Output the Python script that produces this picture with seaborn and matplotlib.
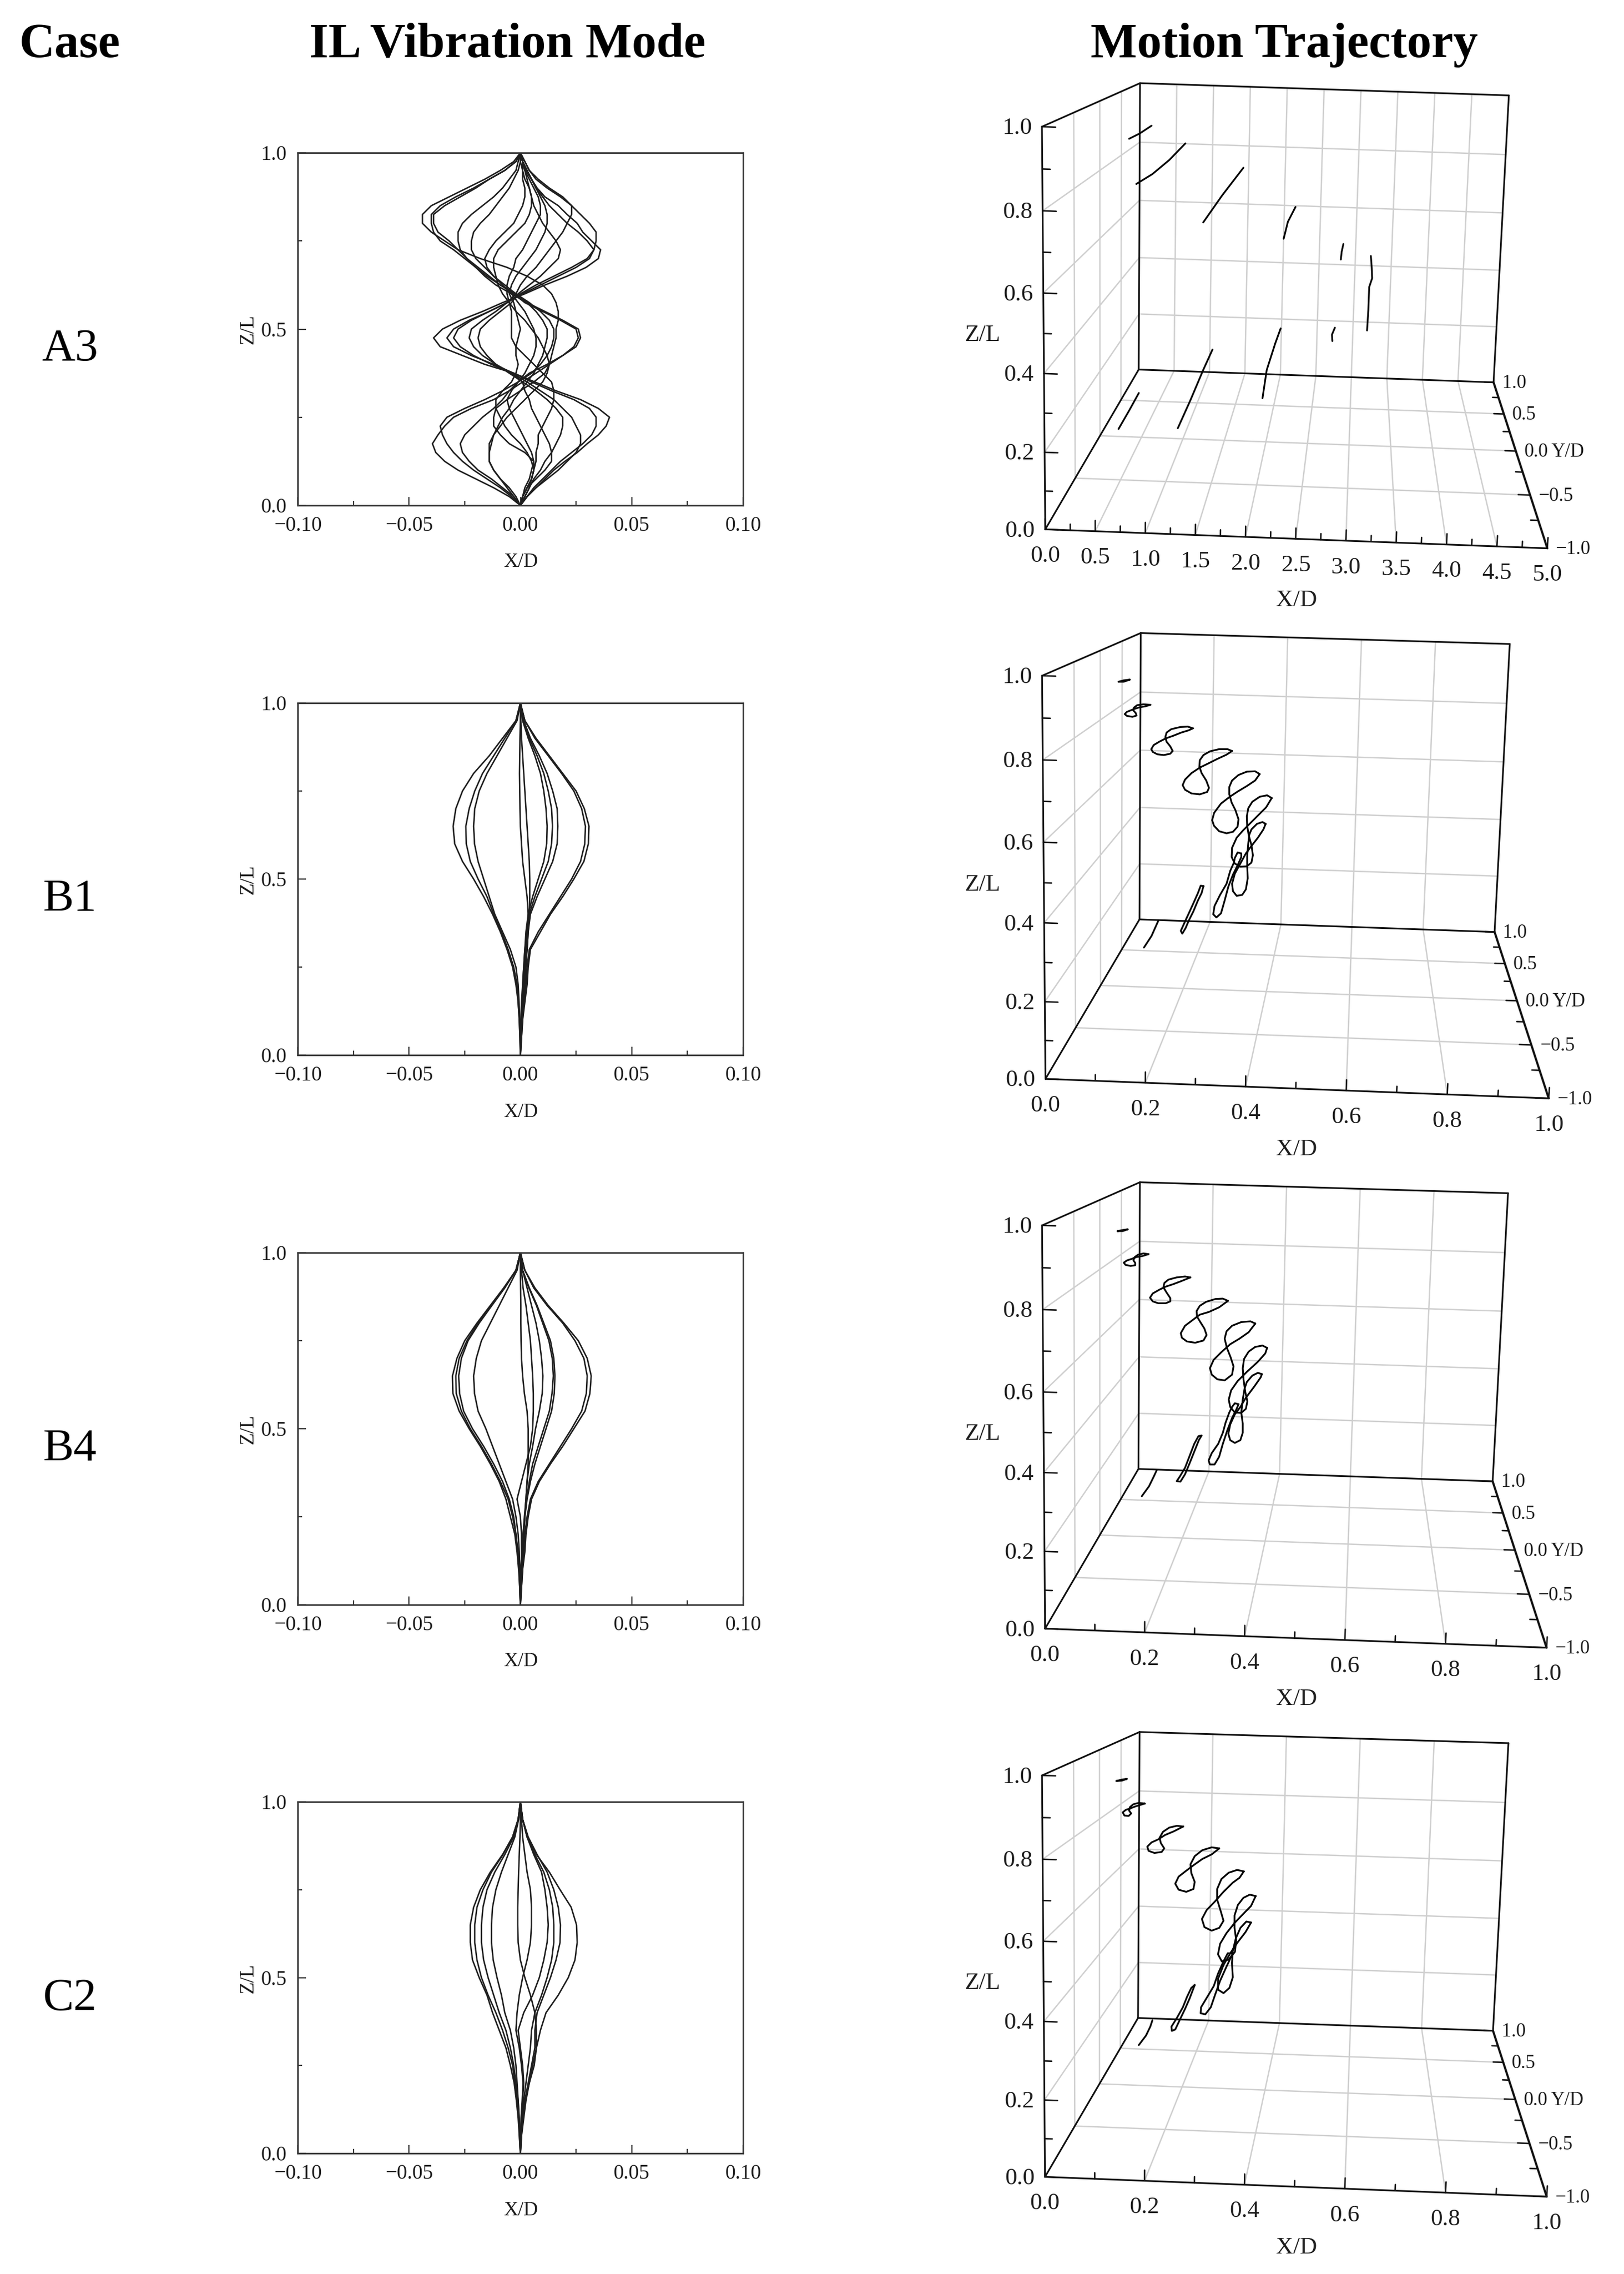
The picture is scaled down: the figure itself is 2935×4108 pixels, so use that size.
import numpy as np
import pandas as pd
import matplotlib
matplotlib.use("Agg")
import matplotlib.pyplot as plt
import seaborn as sns

W, H, DPI = 2935, 4108, 100

CASES = ["A3", "B1", "B4", "C2"]
CASE_Y = [631, 1625, 2618, 3611]
HEADERS = ["Case", "IL Vibration Mode", "Motion Trajectory"]
HEADER_X = [126, 917, 2321]

# Z/L stations of the mode shapes
Z_LEVELS = [0, .05, .10, .15, .20, .25, .30, .35, .40, .45, .50, .55, .60, .65, .70, .75, .80, .85, .90, .95, 1.0]
Z_LEVELS_FINE = [0, .025, .05, .075, .10, .125, .15, .175, .20, .225,
                 .25, .275, .30, .325, .35, .375, .40, .425, .45, .475,
                 .50, .525, .55, .575, .60, .625, .65, .675, .70, .725,
                 .75, .775, .80, .825, .85, .875, .90, .925, .95, .975, 1.0]

MODE_A3 = [
    [0, .003, .007, .011, .015, .020, .0255, .030, .035, .0385,
     .040, .035, .027, .016, .0065, -.003, -.016, -.026, -.036, -.039,
     -.035, -.027, -.017, -.008, .002, .011, .021, .0295, .035, .036,
     .032, .028, .0255, .021, .017, .011, .0075, .005, .0025, .001, 0],
    [0, .003, .006, .010, .014, .018, .023, .028, .032, .034,
     .034, .031, .024, .014, .005, -.003, -.012, -.022, -.030, -.033,
     -.030, -.023, -.014, -.006, .001, .009, .017, .025, .031, .033,
     .034, .034, .031, .027, .023, .018, .012, .007, .004, .002, 0],
    [0, .003, .007, .012, .017, .021, .025, .027, .027, .025,
     .023, .019, .015, .009, .003, -.004, -.013, -.021, -.027, -.030,
     -.028, -.022, -.014, -.006, .000, .007, .015, .023, .030, .033,
     .030, .026, .021, .017, .013, .010, .007, .005, .003, .001, 0],
    [0, .002, .004, .006, .009, .011, .014, .016, .018, .019,
     .019, .016, .012, .007, .001, -.005, -.011, -.017, -.021, -.023,
     -.022, -.017, -.011, -.006, -.002, .000, .003, .007, .010, .013,
     .016, .019, .021, .023, .023, .019, .013, .008, .004, .002, 0],
    [0, .001, .003, .007, .011, .014, .014, .013, .011, .009,
     .007, .005, .004, .002, .001, -.004, -.011, -.015, -.018, -.019,
     -.018, -.014, -.009, -.004, -.001, .004, .009, .013, .017, .018,
     .016, .013, .010, .008, .006, .005, .004, .002, .001, .001, 0],
    [0, .002, .004, .005, .006, .006, .002, -.005, -.009, -.012,
     -.012, -.011, -.006, .000, .006, .011, .013, .014, .015, .016,
     .016, .017, .017, .016, .014, .010, .003, -.006, -.018, -.028,
     -.034, -.040, -.044, -.044, -.040, -.032, -.024, -.016, -.009, -.003, 0],
    [0, -.003, -.008, -.013, -.019, -.023, -.026, -.027, -.025, -.021,
     -.017, -.012, -.008, -.005, -.001, .004, .012, .019, .025, .027,
     .026, .019, .011, .003, -.004, -.011, -.016, -.020, -.025, -.030,
     -.036, -.039, -.040, -.040, -.036, -.029, -.021, -.014, -.007, -.002, 0],
    [0, -.005, -.012, -.020, -.028, -.034, -.038, -.0395, -.037, -.034,
     -.030, -.022, -.012, -.005, .001, .007, .013, .019, .024, .026,
     .025, .018, .010, .002, -.003, -.009, -.014, -.019, -.024, -.028,
     -.032, -.037, -.039, -.039, -.034, -.027, -.020, -.014, -.007, -.002, 0],
    [0, -.004, -.009, -.015, -.021, -.026, -.030, -.033, -.035, -.036,
     -.033, -.025, -.016, -.008, -.001, .005, .009, .012, .014, .015,
     .015, .013, .009, .004, -.002, -.009, -.015, -.020, -.024, -.027,
     -.028, -.028, -.026, -.022, -.017, -.012, -.008, -.005, -.002, -.001, 0],
    [0, -.003, -.006, -.009, -.012, -.014, -.014, -.014, -.012, -.010,
     -.008, -.005, -.003, 0, .003, .006, .008, .010, .011, .012,
     .012, .010, .007, .003, -.002, -.007, -.012, -.016, -.020, -.022,
     -.022, -.021, -.018, -.014, -.011, -.008, -.005, -.003, -.001, 0, 0],
    [0, .001, .003, .005, .006, .005, .003, .000, -.004, -.007,
     -.009, -.011, -.011, -.008, -.004, -.002, -.001, -.002, -.002, -.001,
     0, -.001, -.002, -.003, -.005, -.004, -.002, .001, .004, .007,
     .009, .011, .012, .012, .011, .009, .007, .005, .003, .001, 0],
    [0, -.002, -.005, -.009, -.012, -.014, -.014, -.013, -.012, -.009,
     -.006, -.002, .002, .006, .010, .012, .013, .012, .010, .008,
     .005, .002, -.002, -.005, -.008, -.010, -.011, -.012, -.012, -.010,
     -.006, -.002, .002, .004, .005, .005, .004, .003, .002, .001, 0],
    [0, .001, .003, .005, .006, .007, .007, .008, .008, .010,
     .012, .014, .015, .015, .014, .010, .006, .002, -.002, -.004,
     -.004, -.004, -.004, -.005, -.006, -.006, -.005, -.003, -.002, .001,
     .003, .005, .007, .009, .009, .008, .006, .004, .002, .001, 0],
    [0, .001, .002, .004, .005, .006, .005, .003, .001, -.001,
     -.003, -.005, -.006, -.004, -.001, .002, .004, .006, .007, .007,
     .006, .004, .002, -.001, -.004, -.008, -.012, -.015, -.016, -.014,
     -.011, -.007, -.003, -.001, .001, .002, .002, .001, .001, 0, 0],
]
MODE_B1 = [
    [0, .0005, .001, .002, .003, .0035, .0045, .009, .0135, .019, .024, .0285, .0305, .0308, .0287, .025, .019, .013, .007, .002, 0],
    [0, .0005, .001, .0015, .0025, .003, .004, .008, .013, .018, .023, .027, .0289, .0292, .0275, .024, .0185, .0125, .0065, .002, 0],
    [0, .0003, .0008, .0012, .002, .0025, .003, .0035, .0045, .0075, .011, .0145, .0165, .0168, .0165, .0145, .012, .0085, .0045, .0015, 0],
    [0, .0003, .0006, .001, .0015, .002, .0025, .003, .004, .0065, .0095, .0125, .014, .0144, .014, .0125, .0105, .0075, .004, .001, 0],
    [0, .0002, .0005, .0008, .001, .0015, .002, .0025, .0035, .0055, .008, .0105, .0118, .012, .0115, .0105, .009, .0065, .0035, .001, 0],
    [0, 0, .0005, .001, .0015, .002, .003, .0035, .004, .0042, .0042, .004, .0035, .003, .0025, .002, .0015, .001, .0005, .0002, 0],
    [0, 0, .0002, .0005, .001, .0015, .002, .003, .0035, .003, .002, .001, .0005, 0, -.0002, -.0003, -.0004, -.0003, -.0002, 0, 0],
    [0, -.0002, -.0005, -.001, -.002, -.0035, -.006, -.009, -.0125, -.0165, -.021, -.026, -.0295, -.0302, -.029, -.026, -.021, -.014, -.008, -.002, 0],
    [0, -.0002, -.0005, -.001, -.0015, -.003, -.0055, -.0085, -.012, -.015, -.019, -.0225, -.0243, -.0245, -.023, -.0205, -.017, -.012, -.007, -.002, 0],
    [0, -.0001, -.0003, -.0006, -.001, -.002, -.0045, -.008, -.0115, -.014, -.0165, -.019, -.0206, -.021, -.0205, -.0185, -.015, -.0105, -.006, -.0015, 0],
]
MODE_B4 = [
    [0, .0005, .001, .002, .0025, .0035, .005, .0085, .0135, .019, .024, .029, .0312, .0318, .03, .026, .0195, .0125, .0065, .002, 0],
    [0, .0005, .001, .0015, .002, .003, .0045, .008, .013, .018, .023, .0275, .0296, .03, .0285, .0245, .019, .012, .006, .002, 0],
    [0, .0003, .0008, .0012, .0015, .002, .003, .0045, .0065, .009, .0115, .014, .0152, .0155, .015, .0135, .0105, .0075, .004, .001, 0],
    [0, .0002, .0006, .001, .0012, .002, .0028, .004, .0055, .008, .0105, .013, .0142, .0148, .0143, .0128, .01, .0072, .0038, .001, 0],
    [0, .0002, .0005, .001, .0015, .002, .0025, .003, .004, .0055, .0068, .0085, .0098, .0101, .0095, .0085, .007, .005, .003, .001, 0],
    [0, .0002, .0005, .0005, .0005, 0, -.0015, .0005, .0025, .0045, .0055, .0058, .0058, .0055, .005, .0045, .0035, .0025, .0012, .0005, 0],
    [0, -.0002, 0, .0008, .0012, .0018, .0025, .003, .0035, .0035, .0035, .003, .0018, .001, .0005, .0003, .0002, .0002, .0001, 0, 0],
    [0, -.0003, -.0008, -.0015, -.0025, -.0045, -.0065, -.0095, -.0135, -.018, -.023, -.0275, -.0303, -.0305, -.0285, -.025, -.0195, -.0135, -.0075, -.002, 0],
    [0, -.0003, -.0006, -.0012, -.002, -.0035, -.0055, -.009, -.013, -.0175, -.0225, -.0265, -.0288, -.029, -.0275, -.024, -.019, -.013, -.0072, -.002, 0],
    [0, -.0002, -.0005, -.001, -.002, -.003, -.005, -.008, -.012, -.0165, -.0215, -.0255, -.0273, -.0277, -.0265, -.0235, -.0185, -.0128, -.007, -.002, 0],
    [0, -.0001, -.0003, -.0005, -.001, -.002, -.0035, -.0065, -.0095, -.0125, -.0155, -.019, -.0206, -.021, -.0198, -.0175, -.0135, -.0095, -.0055, -.0015, 0],
]
MODE_C2 = [
    [0, .0005, .0015, .0025, .004, .0055, .0072, .009, .0115, .017, .0215, .0245, .0255, .0252, .0228, .0178, .013, .0072, .0033, .001, 0],
    [0, .0005, .001, .002, .0035, .005, .0065, .0065, .0075, .0105, .0135, .016, .0178, .018, .017, .015, .012, .0075, .0035, .001, 0],
    [0, .0003, .0008, .0015, .0025, .0035, .0045, .005, .0065, .0095, .012, .014, .015, .015, .0145, .013, .0105, .0065, .003, .001, 0],
    [0, .0002, .0005, .001, .0015, .001, 0, -.001, .0015, .0055, .0085, .0105, .012, .0125, .012, .011, .0095, .006, .003, .001, 0],
    [0, .0001, .0003, .0008, .0012, .0005, -.0005, -.002, -.0015, -.0005, .001, .003, .0045, .005, .005, .0045, .003, .002, .001, .0005, 0],
    [0, .0003, .0008, .002, .004, .0062, .0072, .0072, .0065, .0045, .002, 0, -.001, -.0012, -.0012, -.001, -.0008, -.0005, -.0002, 0, 0],
    [0, -.0005, -.001, -.0018, -.0028, -.0045, -.0065, -.0095, -.0125, -.015, -.0185, -.0215, -.0225, -.0225, -.021, -.018, -.0135, -.008, -.0035, -.001, 0],
    [0, -.0004, -.0008, -.0015, -.0025, -.0035, -.0055, -.008, -.011, -.0145, -.0175, -.0195, -.0205, -.0205, -.0195, -.0168, -.013, -.0078, -.0035, -.001, 0],
    [0, -.0003, -.0006, -.001, -.002, -.003, -.0045, -.0065, -.0095, -.012, -.0145, -.0165, -.0175, -.0175, -.0168, -.015, -.0115, -.007, -.003, -.001, 0],
    [0, -.0002, -.0005, -.001, -.0015, -.002, -.003, -.0045, -.007, -.0085, -.0105, -.0122, -.013, -.013, -.0125, -.011, -.0085, -.0055, -.0025, -.0008, 0],
]
MODES = [MODE_A3, MODE_B1, MODE_B4, MODE_C2]
MODE_Z = [Z_LEVELS_FINE, Z_LEVELS, Z_LEVELS, Z_LEVELS]
MODE_TOP = [276, 1270, 2263, 3255]
MODE_BOTTOM = [913, 1906, 2899, 3890]

MODE_XTICKS = [-.10, -.05, 0, .05, .10]
MODE_XLABELS = ["\u22120.10", "\u22120.05", "0.00", "0.05", "0.10"]
MODE_XMINOR = [-.075, -.025, .025, .075]
MODE_YTICKS = [0, .5, 1]
MODE_YLABELS = ["0.0", "0.5", "1.0"]
MODE_YMINOR = [.25, .75]

# Trajectories as read on the page. *_VIEW lists are in the 1568-unit panel view,
# the others are in 3x crop pixels, with their crop's top-left page corner
TRAJ_A3_VIEW = [
    [(445, 205), (470, 190), (498, 168)],
    [(462, 333), (500, 305), (540, 265), (578, 218)],
    [(620, 442), (665, 365), (715, 287)],
    [(810, 488), (820, 440), (838, 398)],
    [(945, 547), (947, 525), (951, 503)],
    [(1007, 748), (1010, 690), (1012, 625), (1019, 600), (1018, 570), (1016, 537)],
    [(925, 778), (924, 760), (931, 740)],
    [(760, 940), (770, 860), (790, 785), (803, 742)],
    [(560, 1025), (590, 945), (620, 860), (642, 802)],
    [(420, 1027), (445, 975), (468, 925)],
]
TRAJ_B1_VIEW = [
    [(420, 175), (432, 171), (447, 169), (432, 175), (420, 175)],
    [(514, 852), (508, 868), (498, 895), (480, 928)],
]
TRAJ_B1_UPPER_ORIGIN = (2010, 1260)
TRAJ_B1_UPPER = [
    [(207, 40), (170, 37), (135, 42), (118, 55), (115, 70), (128, 85), (132, 98), (110, 105), (80, 100), (68, 90), (80, 78), (100, 70), (120, 62), (150, 53), (180, 48), (207, 40)],
    [(438, 167), (410, 158), (370, 160), (320, 172), (295, 190), (288, 215), (295, 240), (315, 265), (328, 290), (315, 305), (280, 312), (245, 308), (220, 295), (212, 280), (225, 258), (255, 240), (290, 222), (330, 208), (375, 190), (415, 178), (438, 167)],
    [(650, 290), (625, 280), (580, 280), (530, 292), (495, 312), (475, 340), (473, 375), (485, 410), (510, 450), (525, 490), (515, 512), (475, 525), (430, 520), (395, 500), (382, 475), (395, 445), (430, 410), (475, 380), (520, 358), (570, 333), (620, 310), (650, 290)],
    [(800, 415), (775, 400), (730, 402), (685, 420), (650, 450), (635, 485), (635, 525), (648, 570), (668, 610), (685, 660), (680, 700), (655, 728), (620, 736), (580, 725), (552, 695), (542, 665), (553, 625), (590, 575), (635, 540), (680, 510), (730, 480), (775, 450), (800, 415)],
]
TRAJ_B1_LOWER_ORIGIN = (2130, 1420)
TRAJ_B1_LOWER = [
    [(505, 65), (480, 50), (440, 58), (400, 85), (378, 120), (370, 165), (372, 215), (380, 265), (395, 320), (403, 375), (395, 415), (370, 435), (335, 437), (305, 420), (288, 385), (290, 335), (315, 280), (350, 240), (385, 205), (430, 160), (475, 115), (505, 65)],
    [(472, 205), (455, 195), (425, 205), (395, 235), (383, 265), (378, 310), (372, 380), (372, 430), (375, 500), (365, 560), (345, 590), (315, 595), (295, 570), (290, 530), (305, 475), (335, 420), (365, 365), (395, 325), (430, 280), (460, 235), (472, 205)],
    [(340, 365), (320, 360), (305, 390), (300, 415), (280, 460), (260, 530), (225, 590), (195, 650), (188, 695), (205, 712), (230, 690), (250, 620), (270, 545), (295, 480), (320, 430), (340, 385), (340, 365)],
    [(135, 542), (120, 540), (105, 580), (85, 625), (60, 680), (30, 745), (12, 785), (20, 800), (38, 770), (55, 730), (80, 680), (105, 620), (125, 580), (135, 542)],
]
TRAJ_B4_VIEW = [
    [(418, 174), (430, 171), (442, 169), (430, 174), (418, 174)],
    [(510, 852), (503, 870), (492, 897), (475, 925)],
]
TRAJ_B4_ORIGIN = (2010, 2255)
TRAJ_B4_CROP = [
    [(197, 32), (170, 28), (140, 35), (122, 48), (115, 65), (125, 80), (125, 92), (100, 96), (72, 90), (63, 78), (80, 66), (105, 58), (130, 48), (165, 42), (197, 32)],
    [(424, 158), (395, 153), (350, 158), (305, 170), (283, 188), (278, 212), (295, 240), (315, 270), (315, 288), (290, 298), (250, 298), (220, 288), (205, 268), (220, 245), (255, 225), (290, 208), (330, 195), (375, 178), (424, 158)],
    [(628, 285), (600, 273), (560, 275), (510, 290), (475, 312), (458, 340), (460, 370), (478, 400), (500, 435), (512, 470), (495, 500), (450, 512), (405, 505), (378, 485), (372, 460), (395, 420), (435, 390), (475, 360), (525, 345), (580, 320), (628, 285)],
    [(776, 408), (750, 396), (700, 400), (650, 420), (620, 450), (610, 490), (622, 540), (642, 590), (658, 640), (650, 685), (610, 716), (570, 710), (540, 685), (530, 650), (550, 605), (590, 565), (640, 520), (690, 490), (740, 455), (776, 408)],
    [(840, 540), (815, 527), (775, 535), (740, 560), (715, 600), (708, 650), (712, 710), (722, 780), (733, 830), (725, 870), (700, 892), (665, 890), (640, 860), (632, 820), (645, 770), (680, 720), (730, 670), (790, 615), (830, 570), (840, 540)],
    [(812, 682), (790, 675), (760, 690), (730, 725), (718, 760), (708, 820), (700, 890), (708, 950), (708, 1000), (695, 1040), (665, 1055), (640, 1040), (630, 1005), (640, 955), (665, 900), (695, 860), (725, 810), (770, 750), (805, 700), (812, 682)],
    [(685, 845), (665, 840), (650, 860), (635, 890), (615, 945), (600, 1000), (575, 1060), (540, 1110), (523, 1150), (530, 1172), (555, 1172), (580, 1130), (600, 1060), (625, 985), (650, 920), (675, 870), (685, 845)],
    [(485, 1015), (468, 1018), (445, 1060), (420, 1125), (395, 1190), (365, 1240), (350, 1262), (370, 1265), (395, 1225), (420, 1165), (450, 1090), (470, 1040), (485, 1015)],
]
TRAJ_C2_VIEW = [
    [(415, 184), (428, 180), (440, 178), (428, 183), (415, 184)],
    [(482, 248), (468, 246), (455, 250), (447, 258), (445, 268), (450, 276), (444, 283), (434, 282), (430, 273), (437, 266), (447, 262), (460, 256), (482, 248)],
    [(573, 313), (558, 311), (540, 316), (525, 328), (517, 345), (520, 360), (528, 375), (522, 385), (505, 388), (491, 382), (488, 370), (498, 358), (513, 350), (530, 337), (550, 327), (573, 313)],
    [(658, 375), (640, 372), (618, 380), (600, 397), (590, 420), (592, 445), (600, 470), (597, 490), (580, 498), (562, 492), (554, 475), (562, 455), (578, 440), (598, 422), (618, 405), (640, 392), (658, 375)],
    [(716, 440), (700, 436), (680, 444), (663, 462), (653, 490), (653, 520), (662, 555), (668, 580), (658, 600), (640, 608), (623, 598), (617, 575), (628, 550), (648, 525), (668, 498), (690, 472), (706, 458), (716, 440)],
    [(744, 510), (730, 506), (715, 515), (702, 535), (694, 565), (694, 600), (698, 635), (695, 668), (680, 690), (664, 695), (655, 675), (660, 645), (675, 615), (695, 585), (715, 560), (733, 538), (744, 510)],
    [(733, 585), (722, 582), (708, 600), (697, 630), (690, 665), (688, 700), (690, 740), (682, 770), (668, 785), (655, 775), (655, 745), (668, 705), (685, 670), (702, 640), (720, 612), (733, 585)],
    [(690, 672), (678, 672), (668, 695), (655, 730), (645, 765), (630, 795), (615, 825), (614, 842), (625, 845), (638, 825), (648, 790), (660, 750), (675, 710), (690, 672)],
    [(600, 762), (592, 770), (582, 795), (572, 825), (558, 855), (545, 880), (546, 892), (554, 888), (565, 860), (577, 830), (588, 800), (600, 762)],
    [(500, 862), (495, 880), (485, 905), (468, 932)],
]
PANEL_TOP = [120, 1120, 2113, 3100]
TRAJ_VIEW = [TRAJ_A3_VIEW, TRAJ_B1_VIEW, TRAJ_B4_VIEW, TRAJ_C2_VIEW]
TRAJ_CROPS = [
    [],
    [(TRAJ_B1_UPPER_ORIGIN, TRAJ_B1_UPPER), (TRAJ_B1_LOWER_ORIGIN, TRAJ_B1_LOWER)],
    [(TRAJ_B4_ORIGIN, TRAJ_B4_CROP)],
    [],
]

# X/D axis of the 3d boxes
X_RANGE = [5.0, 1.0, 1.0, 1.0]
X_MAJOR = [[0, .5, 1, 1.5, 2, 2.5, 3, 3.5, 4, 4.5, 5], [0, .2, .4, .6, .8, 1], [0, .2, .4, .6, .8, 1], [0, .2, .4, .6, .8, 1]]
X_MINOR = [[.25, .75, 1.25, 1.75, 2.25, 2.75, 3.25, 3.75, 4.25, 4.75], [.1, .3, .5, .7, .9], [.1, .3, .5, .7, .9], [.1, .3, .5, .7, .9]]
Z_MAJOR = [0, .2, .4, .6, .8, 1]
Z_MINOR = [.1, .3, .5, .7, .9]
Y_MAJOR = [-1, -.5, 0, .5, 1]
Y_MINOR = [-.75, -.25, .25, .75]

# box corners on the page in view units: FL bottom, FL top, BL bottom, BL top, BR top, BR bottom, FR bottom
BOX_CORNERS = [
    [(247, 1312), (240, 170), (468, 858), (470, 48), (1342, 82), (1306, 895), (1432, 1365)],
    [(247, 1300), (240, 158), (470, 848), (472, 37), (1344, 68), (1308, 884), (1436, 1355)],
    [(247, 1300), (240, 157), (467, 848), (470, 36), (1340, 67), (1304, 882), (1430, 1355)],
    [(247, 1306), (240, 167), (466, 855), (469, 46), (1341, 77), (1305, 891), (1430, 1362)],
]
BOX_CORNER_UVW = [(0, 0, 0), (0, 0, 1), (0, 1, 0), (0, 1, 1), (1, 1, 1), (1, 1, 0), (1, 0, 0)]

GRID = "#cfcfcf"
INK = "#1e1e1e"
TEXT = "#1c1c1c"


def fit_projection(corners):
    rows = []
    for (u, v, w), (px, py) in zip(BOX_CORNER_UVW, corners):
        rows.append([u, v, w, 1, 0, 0, 0, 0, -px * u, -px * v, -px * w, -px])
        rows.append([0, 0, 0, 0, u, v, w, 1, -py * u, -py * v, -py * w, -py])
    _, _, vt = np.linalg.svd(np.array(rows, dtype=float))
    return vt[-1].reshape(3, 4)


def draw_mode(fig, i):
    top, bottom = MODE_TOP[i], MODE_BOTTOM[i]
    ax = fig.add_axes([538 / W, 1 - bottom / H, (1343 - 538) / W, (bottom - top) / H])
    rows = [{"x": x, "z": z, "curve": c} for c, curve in enumerate(MODES[i]) for x, z in zip(curve, MODE_Z[i])]
    df = pd.DataFrame(rows)
    sns.lineplot(data=df, x="x", y="z", units="curve", estimator=None, sort=False,
                 color=INK, lw=1.9, legend=False, ax=ax)
    ax.set_xlim(-.10, .10)
    ax.set_ylim(0, 1)
    ax.set_xticks(MODE_XTICKS, MODE_XLABELS)
    ax.set_yticks(MODE_YTICKS, MODE_YLABELS)
    ax.set_xticks(MODE_XMINOR, minor=True)
    ax.set_yticks(MODE_YMINOR, minor=True)
    ax.tick_params(axis="both", which="major", direction="in", length=11, width=1.6, color="#333333",
                   labelsize=27, labelcolor=TEXT, pad=14, left=True, bottom=True)
    ax.tick_params(axis="both", which="minor", direction="in", length=6, width=1.6, color="#333333",
                   left=True, bottom=True)
    for spine in ax.spines.values():
        spine.set_visible(True)
        spine.set_color("#333333")
        spine.set_linewidth(2.0)
    ax.set_xlabel("")
    ax.set_ylabel("")
    fig.text(941 / W, 1 - (bottom + 103) / H, "X/D", fontsize=26, color=TEXT, ha="center", va="center")
    fig.text(449 / W, 1 - (top + 319) / H, "Z/L", fontsize=26, color=TEXT, ha="center", va="center", rotation=90)


def draw_box(fig, i):
    y0 = PANEL_TOP[i]
    ax = fig.add_axes([1700 / W, 1 - (y0 + 1000) / H, 1200 / W, 1000 / H])
    ax.set_xlim(0, 1568)
    ax.set_ylim(1568, 0)
    ax.axis("off")

    m = fit_projection(BOX_CORNERS[i])
    xmax = X_RANGE[i]

    def pr(x, y, z):
        p = m @ np.array([x / xmax, (y + 1) / 2, z, 1.0])
        return p[0] / p[2], p[1] / p[2]

    def seg(a, b, **kw):
        pa, pb = pr(*a), pr(*b)
        ax.plot([pa[0], pb[0]], [pa[1], pb[1]], solid_capstyle="round", **kw)

    grid = dict(color=GRID, lw=1.8, zorder=1)
    for x in X_MAJOR[i][1:-1]:
        seg((x, 1, 0), (x, 1, 1), **grid)
        seg((x, -1, 0), (x, 1, 0), **grid)
    for z in Z_MAJOR[1:-1]:
        seg((0, 1, z), (xmax, 1, z), **grid)
        seg((0, -1, z), (0, 1, z), **grid)
    for y in Y_MAJOR[1:-1]:
        seg((0, y, 0), (0, y, 1), **grid)
        seg((0, y, 0), (xmax, y, 0), **grid)

    frame = dict(color="#101010", lw=2.2, zorder=3)
    seg((0, -1, 0), (0, -1, 1), **frame)
    seg((0, -1, 1), (0, 1, 1), **frame)
    seg((0, 1, 1), (xmax, 1, 1), **frame)
    seg((0, 1, 0), (0, 1, 1), **frame)
    seg((xmax, 1, 0), (xmax, 1, 1), **frame)
    seg((0, -1, 0), (xmax, -1, 0), **frame)
    seg((0, -1, 0), (0, 1, 0), **frame)
    seg((0, 1, 0), (xmax, 1, 0), **frame)
    seg((xmax, -1, 0), (xmax, 1, 0), color="#101010", lw=2.8, zorder=3)

    tick = dict(color="#101010", lw=1.9, zorder=3)
    for x in X_MAJOR[i]:
        seg((x, -1, 0), (x, -1, .028), **tick)
        px, py = pr(x, -1, 0)
        ax.text(px, py + 76, f"{x:.1f}", fontsize=31, color=TEXT, ha="center", va="center")
    for x in X_MINOR[i]:
        seg((x, -1, 0), (x, -1, .016), **tick)
    for z in Z_MAJOR:
        seg((0, -1, z), (.026 * xmax, -1, z), **tick)
        px, py = pr(0, -1, z)
        ax.text(px - 24, py + 5, f"{z:.1f}", fontsize=31, color=TEXT, ha="right", va="center")
    for z in Z_MINOR:
        seg((0, -1, z), (.015 * xmax, -1, z), **tick)
    for y in Y_MAJOR:
        seg((xmax * .974, y, 0), (xmax, y, 0), **tick)
        px, py = pr(xmax, y, 0)
        label = f"{y:.1f}".replace("-", "\u2212")
        ax.text(px + 20, py + 3, label, fontsize=25, color=TEXT, ha="left", va="center")
        if y == 0:
            ax.text(px + 84, py + 3, "Y/D", fontsize=25, color=TEXT, ha="left", va="center")
    for y in Y_MINOR:
        seg((xmax * .984, y, 0), (xmax, y, 0), **tick)

    fl_bottom, fl_top = BOX_CORNERS[i][0], BOX_CORNERS[i][1]
    ax.text(840, fl_bottom[1] + 200, "X/D", fontsize=31, color=TEXT, ha="center", va="center")
    ax.text(100, (fl_bottom[1] + fl_top[1]) / 2 + 21, "Z/L", fontsize=31, color=TEXT, ha="center", va="center")

    rows = []
    for pts in TRAJ_VIEW[i]:
        s = len({r["seg"] for r in rows})
        rows += [{"u": u, "v": v, "seg": s} for u, v in pts]
    for (ox, oy), lists in TRAJ_CROPS[i]:
        for pts in lists:
            s = len({r["seg"] for r in rows})
            rows += [{"u": (ox + cx / 3 - 1700) * 1568 / 1200, "v": (oy + cy / 3 - y0) * 1568 / 1000, "seg": s}
                     for cx, cy in pts]
    df = pd.DataFrame(rows)
    sns.lineplot(data=df, x="u", y="v", units="seg", estimator=None, sort=False,
                 color="#050505", lw=2.3, legend=False, ax=ax, zorder=4)
    ax.set_xlim(0, 1568)
    ax.set_ylim(1568, 0)


sns.set_theme(style="white")
plt.rcParams["font.family"] = ["Liberation Serif", "DejaVu Serif"]

fig = plt.figure(figsize=(W / DPI, H / DPI), dpi=DPI, facecolor="white")

for label, x in zip(HEADERS, HEADER_X):
    fig.text(x / W, 1 - 81 / H, label, fontsize=64, fontweight="bold", color="black", ha="center", va="center")
for label, y in zip(CASES, CASE_Y):
    fig.text(126 / W, 1 - y / H, label, fontsize=60, color="black", ha="center", va="center")

for i in range(len(CASES)):
    draw_mode(fig, i)
    draw_box(fig, i)

fig.savefig("out.png", dpi=DPI)
